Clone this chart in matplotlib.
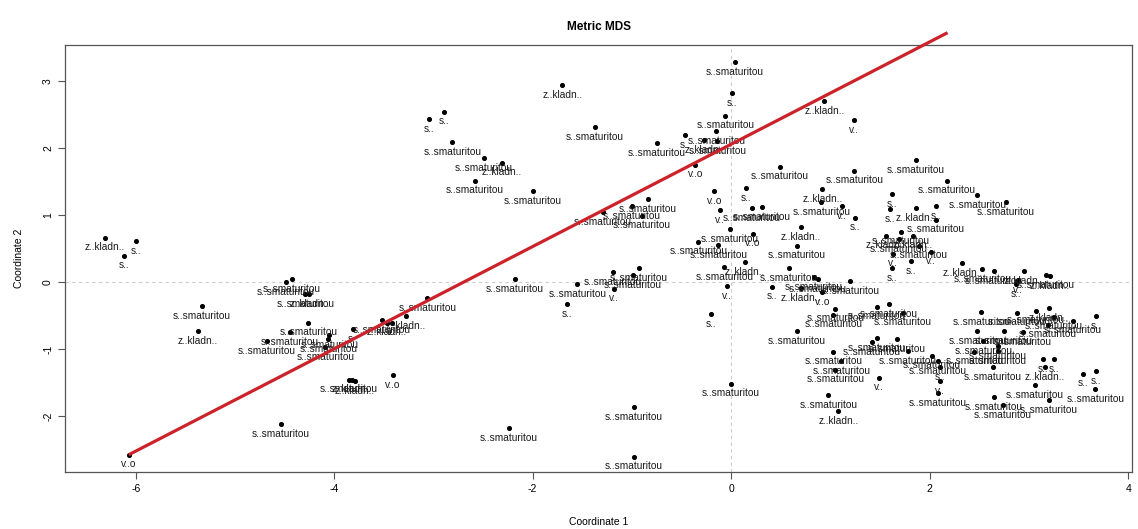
import matplotlib
matplotlib.use('Agg')
import matplotlib.pyplot as plt

plt.rcParams['font.family'] = ['Liberation Sans', 'DejaVu Sans']
plt.rcParams['axes.unicode_minus'] = False

# MDS coordinates
coord1 = [-6.31, -6.00, -6.12, -6.07, -5.33, -5.37, -4.54, -4.43, -4.49, -4.29,
          -4.25, -4.26, -4.45, -4.68, -4.05, -4.06, -4.09, -3.81, -3.85, -3.82,
          -3.79, -3.41, -3.52, -3.42, -3.28, -3.06, -3.47,
          -1.70, -2.89, -3.04, -2.81, -1.37, -2.49, -2.31, -2.58, -2.00, -0.75,
          -1.00, -0.84, -0.90, -1.29, -2.18, -1.55, -1.65, -1.19, -1.18, -0.93,
          -0.99, -2.24, -0.98, -0.98, -0.20, 0.00,
          0.04, 0.01, 0.94, 1.24, -0.06, -0.15, -0.47, -0.27, -0.14, -0.36,
          0.49, 1.24, 0.15, -0.17, 0.92, 0.91, 1.12, 1.25, -0.11, 0.21,
          0.31, 0.70, -0.01, 0.22, -0.33, -0.13, 0.66, 0.14, -0.07, 0.58,
          -0.04, 0.41, 0.87, 0.83, 0.92, 1.20, 0.70,
          1.05, 1.03, 0.66, 1.03, 1.11, 1.05, 0.98, 1.08,
          1.47, 1.59, 1.73, 1.47, 1.42, 1.67, 1.78, 2.02, 2.08, 2.10,
          1.49, 2.10, 2.08, 2.52, 2.48, 2.54, 2.75, 2.94, 2.88, 3.07,
          3.20, 3.25, 3.19, 3.44, 3.68, 2.69, 2.69, 2.45, 2.64, 3.14,
          3.25, 3.16, 3.06, 3.55, 3.68, 3.67, 3.20, 2.65, 2.74,
          1.86, 2.17, 2.48, 2.77, 1.62, 1.60, 1.86, 2.06, 2.06, 1.56,
          1.83, 1.69, 1.71, 1.89, 1.63, 2.01, 1.81, 1.62, 2.33, 2.53,
          2.65, 2.95, 3.17, 3.21, 2.87, 2.89]

coord2 = [0.66, 0.61, 0.39, -2.58, -0.36, -0.73, -2.12, 0.04, 0.00, -0.18,
          -0.18, -0.61, -0.75, -0.88, -0.79, -0.85, -0.97, -0.70, -1.46, -1.46,
          -1.48, -1.39, -0.57, -0.61, -0.51, -0.24, -0.61,
          2.94, 2.54, 2.43, 2.09, 2.31, 1.85, 1.78, 1.51, 1.36, 2.07,
          1.13, 1.24, 0.99, 1.04, 0.04, -0.03, -0.33, 0.15, -0.10, 0.21,
          0.10, -2.18, -1.87, -2.61, -0.48, -1.52,
          3.28, 2.82, 2.70, 2.42, 2.48, 2.25, 2.19, 2.12, 2.10, 1.75,
          1.72, 1.66, 1.40, 1.36, 1.39, 1.19, 1.13, 0.96, 1.07, 1.10,
          1.12, 0.82, 0.79, 0.72, 0.60, 0.55, 0.54, 0.30, 0.22, 0.21,
          -0.06, -0.07, 0.04, 0.07, -0.15, 0.01, -0.09,
          -0.40, -0.49, -0.73, -1.04, -1.18, -1.31, -1.69, -1.93,
          -0.37, -0.33, -0.46, -0.84, -0.90, -0.85, -1.03, -1.10, -1.18, -1.27,
          -1.43, -1.48, -1.66, -0.45, -0.73, -0.88, -0.73, -0.75, -0.46, -0.43,
          -0.39, -0.52, -0.64, -0.58, -0.51, -0.96, -1.03, -1.04, -1.27, -1.15,
          -1.15, -1.27, -1.54, -1.37, -1.33, -1.60, -1.76, -1.72, -1.84,
          1.82, 1.51, 1.30, 1.19, 1.31, 1.09, 1.10, 1.13, 0.93, 0.69,
          0.69, 0.64, 0.75, 0.54, 0.42, 0.45, 0.31, 0.21, 0.28, 0.19,
          0.16, 0.16, 0.10, 0.09, -0.03, 0.03]

S = 's..smaturitou'
Z = 'z..kladn..'
s = 's..'
v = 'v..'
vo = 'v..o'
names = [Z, s, s, vo, S, Z, S, S, S, S,
         Z, S, S, S, S, S, S, s, S, Z,
         Z, vo, S, v, Z, S, Z,
         Z, s, s, S, S, S, Z, S, S, S,
         S, S, S, S, S, S, s, S, v, S,
         S, S, S, S, s, S,
         S, s, Z, v, S, S, s, Z, S, vo,
         S, S, s, vo, Z, S, v, s, v, S,
         S, Z, S, vo, S, S, S, Z, S, S,
         v, s, S, S, vo, S, Z,
         S, S, S, S, S, S, S, Z,
         S, S, S, S, S, S, S, S, S, s,
         v, v, S, S, S, S, S, S, S, S,
         Z, S, S, S, s, S, S, S, S, s,
         s, Z, S, s, s, S, S, S, S,
         S, S, S, S, s, s, Z, s, S, Z,
         Z, S, S, S, v, v, s, s, Z, S,
         S, Z, S, Z, s, v]

# fitted line drawn over the points
line_x = [-6.07, 2.18]
line_y = [-2.58, 3.72]

fig = plt.figure(figsize=(11.38, 5.29), dpi=100)
ax = fig.add_axes([0.057, 0.108, 0.938, 0.807])

ax.axhline(0, color='#cccccc', lw=0.8, ls=(0, (3, 3)), zorder=0)
ax.axvline(0, color='#cccccc', lw=0.8, ls=(0, (3, 3)), zorder=0)

ax.scatter(coord1, coord2, s=7, color='black', zorder=3)
for x, y, lab in zip(coord1, coord2, names):
    ax.annotate(lab, (x, y), xytext=(0, -7), textcoords='offset points',
                ha='center', va='center', fontsize=7.3, color='#1a1a1a', zorder=4)

ax.plot(line_x, line_y, color='#cc2229', lw=2.3, clip_on=False, zorder=5,
        solid_capstyle='butt')

ax.set_xlim(-6.714, 4.042)
ax.set_ylim(-2.836, 3.537)
ax.set_xticks([-6, -4, -2, 0, 2, 4])
ax.set_yticks([-2, -1, 0, 1, 2, 3])
ax.tick_params(labelsize=7.5, length=5, color='#555555')
for lbl in ax.get_yticklabels():
    lbl.set_rotation(90)
    lbl.set_va('center')
for sp in ax.spines.values():
    sp.set_color('#555555')
    sp.set_linewidth(0.9)

ax.set_xlabel('Coordinate 1', fontsize=7.5, labelpad=17)
ax.set_ylabel('Coordinate 2', fontsize=7.5, labelpad=14)
ax.set_title('Metric MDS', fontsize=8.5, fontweight='bold', pad=11)

fig.savefig('out.png', dpi=100)
